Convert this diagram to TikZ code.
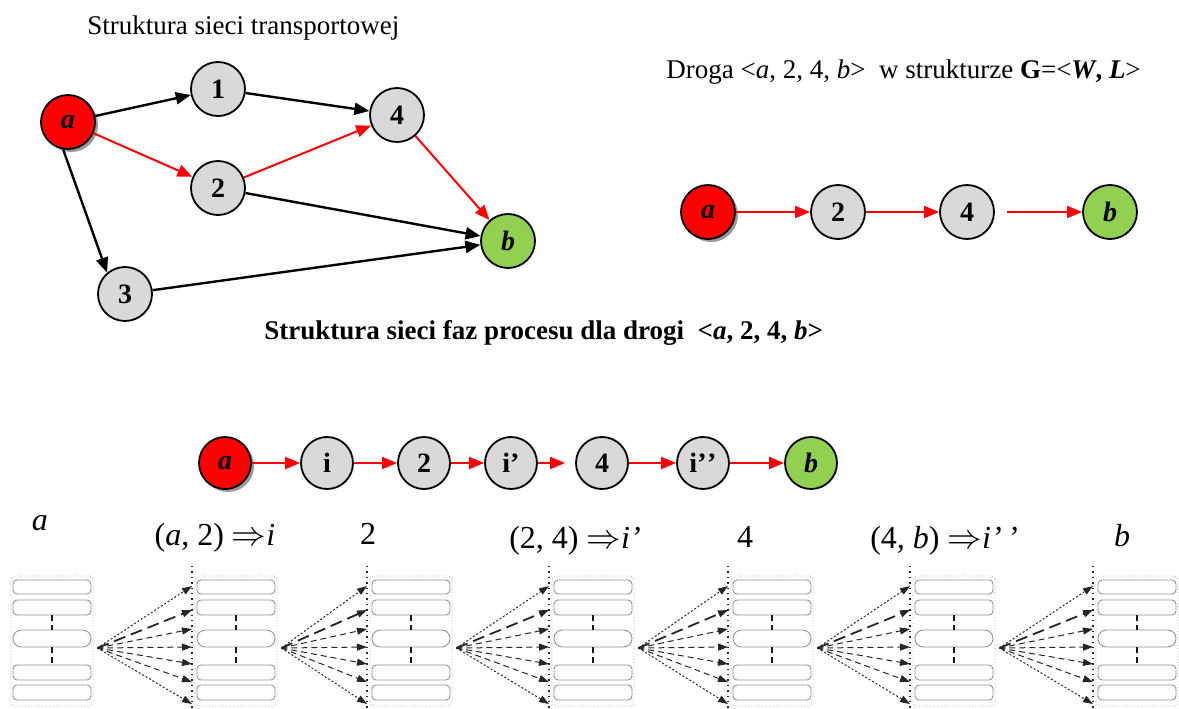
\documentclass[tikz,border=0pt]{standalone}
\usepackage{fontspec}
\setmainfont{Liberation Serif}
\usepackage{tikz}
\usetikzlibrary{
    positioning,
    arrows.meta,
    calc,
    shadows,
}
\definecolor{nodegray}{HTML}{D9D9D9}
\definecolor{nodegreen}{HTML}{92D050}
\definecolor{nodered}{HTML}{FF0000}
\tikzset{
    % Vertex styles
    vertex/.style={circle, draw, line width=0.9pt, minimum size=27pt, inner sep=0pt,
                   fill=nodegray, font=\fontsize{14}{16}\selectfont\bfseries},
    source vertex/.style={vertex, fill=nodered,
                   font=\fontsize{14}{16}\selectfont\bfseries\itshape,
                   drop shadow={shadow xshift=1.5pt, shadow yshift=-1.5pt, fill=gray, opacity=0.8}},
    sink vertex/.style={vertex, fill=nodegreen,
                   font=\fontsize{14}{16}\selectfont\bfseries\itshape},
    phase vertex/.style={minimum size=26pt},
    % Arrow styles
    arrow/.style={-{Triangle[length=7.5pt, width=6pt]}, line width=1.2pt},
    path arrow/.style={-{Triangle[length=7.5pt, width=6pt]}, line width=1pt, red},
    % Stack styles
    stack/.style={rectangle, draw=gray!65, densely dotted, rounded corners=2pt,
                  minimum width=41pt, minimum height=65pt, inner sep=0pt},
    field/.style={rectangle, draw=gray!85, line width=0.45pt, rounded corners=2pt,
                  minimum width=39pt, inner sep=0pt},
    link/.style={densely dashed, gray!20!black, line width=0.6pt},
    divider/.style={dotted, black!85, line width=0.7pt},
    fan/.style={-{Triangle[length=5pt, width=3.5pt]}, gray!30!black, line width=0.5pt,
                dash pattern=on 3pt off 2pt},
    fan long/.style={fan, line width=0.9pt, dash pattern=on 6pt off 3pt},
    fan outer/.style={fan, dash pattern=on 1pt off 1pt},
    % Text styles
    heading/.style={font=\fontsize{13.5}{16}\selectfont, inner sep=0pt},
    phase text/.style={font=\fontsize{16}{18}\selectfont, inner sep=0pt},
}

\begin{document}
\begin{tikzpicture}[x=0.5pt, y=-0.5pt]
    \useasboundingbox (0,0) rectangle (1179,708);

    % Transport network
    \node[heading, anchor=west] (nettitle) at (87,28) {Struktura sieci transportowej};
    \node[source vertex] (a) at (68,122) {a};
    \node[vertex] (n1) at (218,89) {1};
    \node[vertex] (n2) at (218,188) {2};
    \node[vertex] (n3) at (125,294) {3};
    \node[vertex] (n4) at (397,115) {4};
    \node[sink vertex] (b) at (508,241) {b};

    \draw[arrow] (a) -- (n1);
    \draw[arrow] (a.260) -- (n3.130);
    \draw[arrow] (n1) -- (n4);
    \draw[arrow] (n2) -- (b);
    \draw[arrow] (n3) -- (b);
    \draw[path arrow] (a) -- (n2);
    \draw[path arrow] (n2) -- (n4);
    \draw[path arrow] (n4) -- (b);

    % Path in G
    \node[heading, anchor=west] (pathtitle) at (666,72)
        {Droga <\textit{a}, 2, 4, \textit{b}>\ \ w strukturze \textbf{G}=<\textbf{\textit{W}, \textit{L}}>};
    \node[source vertex] (pa) at (708,212) {a};
    \node[vertex] (p2) at (838,212) {2};
    \node[vertex] (p4) at (967,212) {4};
    \node[sink vertex] (pb) at (1110,212) {b};

    \draw[path arrow] (pa) -- (p2);
    \draw[path arrow] (p2) -- (p4);
    \draw[path arrow, shorten <=6pt] (p4) -- (pb);

    % Phase network
    \node[heading, font=\fontsize{13.5}{16}\selectfont\bfseries, anchor=west] (phasetitle) at (264,333)
        {Struktura sieci faz procesu dla drogi\ \ <\textit{a}, 2, 4, \textit{b}>};
    \node[source vertex, phase vertex] (qa) at (225,463) {a};
    \node[vertex, phase vertex] (qi) at (327,463) {i};
    \node[vertex, phase vertex] (q2) at (424,463) {2};
    \node[vertex, phase vertex] (qi1) at (511,463) {i’};
    \node[vertex, phase vertex] (q4) at (602,463) {4};
    \node[vertex, phase vertex] (qi2) at (703,463) {i’\kern0.3pt’};
    \node[sink vertex, phase vertex] (qb) at (811,463) {b};

    \draw[path arrow] (qa) -- (qi);
    \draw[path arrow] (qi) -- (q2);
    \draw[path arrow] (q2) -- (qi1);
    \draw[path arrow, shorten >=5pt] (qi1) -- (q4);
    \draw[path arrow] (q4) -- (qi2);
    \draw[path arrow] (qi2) -- (qb);

    % Phase labels
    \node[phase text] (la) at (40,523) {\textit{a}};
    \node[phase text] (lai) at (215,538) {(\textit{a}, 2) $\Rightarrow$\textit{i}};
    \node[phase text] (l2) at (368,534) {2};
    \node[phase text] (l2i) at (575,541) {(2, 4) $\Rightarrow$\textit{i’}};
    \node[phase text] (l4) at (745,537) {4};
    \node[phase text] (l4i) at (944,541) {(4, \textit{b}) $\Rightarrow$\textit{i’\,’}};
    \node[phase text] (lb) at (1122,536) {\textit{b}};

    % Stacks
    \foreach \sx [count=\k] in {11,195,370,552,731,913,1096} {
        \node[stack] (s\k) at (\sx+41,641) {};
        \foreach \fy/\fh/\fr [count=\m] in {11/7/2pt,31.5/7.5/2pt,62.5/8.5/4.2pt,96.5/7.5/2pt,116.5/7.5/2pt} {
            \node[field, minimum height=\fh pt, rounded corners=\fr] (f\k-\m) at (\sx+41,576+\fy) {};
        }
        \draw[link] (f\k-2) -- (f\k-3);
        \draw[link] (f\k-3) -- (f\k-4);
    }

    % Fans between stacks
    \foreach \sx [count=\k from 2] in {195,370,552,731,913,1096} {
        \pgfmathtruncatemacro{\j}{\k-1}
        \coordinate (apex\j) at ($(s\j.east)+(4,7)$);
        \coordinate (top\k) at (\sx-3,566);
        \coordinate (bot\k) at (\sx-3,708);
        \draw[divider] (top\k) -- (bot\k);
        \foreach \off/\sty [count=\n] in {10/fan outer,34/fan long,53/fan,71/fan,88/fan,106/fan,128/fan outer} {
            \coordinate (t\k-\n) at (\sx-3,576+\off);
            \draw[\sty] (apex\j) -- (t\k-\n);
        }
    }
\end{tikzpicture}
\end{document}
